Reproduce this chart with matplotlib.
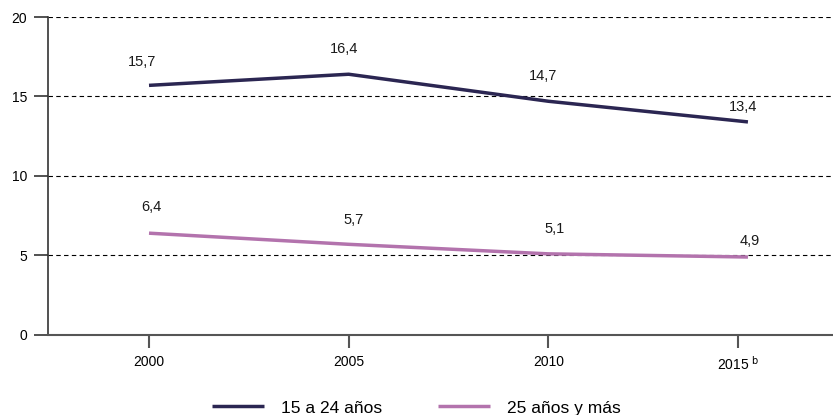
import matplotlib
matplotlib.use("Agg")
import matplotlib.pyplot as plt
import matplotlib.transforms as mtransforms

years = [2000, 2005, 2010, 2015]
tick_labels = ["2000", "2005", "2010", "2015$^{\\ \\mathrm{b}}$"]
jovenes = [15.7, 16.4, 14.7, 13.4]
adultos = [6.4, 5.7, 5.1, 4.9]
series_names = ["15 a 24 años", "25 años y más"]

# label offsets (points) as placed in the original
off_jov = [(-5, 16.5), (-3.5, 18), (-3.5, 18), (-3.5, 10.5)]
off_adu = [(2, 18.5), (3.5, 17.5), (4.5, 18), (1.5, 11.5)]

plt.rcParams['font.family'] = ['Liberation Sans', 'DejaVu Sans']

fig = plt.figure(figsize=(8.33, 4.15), dpi=100)
ax = fig.add_axes([0.0576, 0.193, 0.9424, 0.766])

c1 = "#2b2652"
c2 = "#b373ad"
ax.plot(years, jovenes, color=c1, lw=2.5, label=series_names[0], solid_capstyle='butt')
ax.plot(years, adultos, color=c2, lw=2.5, label=series_names[1], solid_capstyle='butt')

for x, y, o in zip(years, jovenes, off_jov):
    ax.annotate(f"{y:.1f}".replace(".", ","), (x, y), xytext=o, textcoords="offset points",
                ha="center", va="center", fontsize=10.5, color="#1a1a1a")
for x, y, o in zip(years, adultos, off_adu):
    ax.annotate(f"{y:.1f}".replace(".", ","), (x, y), xytext=o, textcoords="offset points",
                ha="center", va="center", fontsize=10.5, color="#1a1a1a")

ax.set_ylim(0, 20)
ax.set_yticks([0, 5, 10, 15, 20])
ax.set_xlim(1997.47, 2017.13)
ax.set_xticks(years)
ax.set_xticklabels(tick_labels)

for yv in [5, 10, 15, 20]:
    ax.axhline(yv, color="black", lw=0.8, ls=(0, (4, 3)), zorder=0)

for s in ["top", "right"]:
    ax.spines[s].set_visible(False)
ax.spines["left"].set_color("#333333")
ax.spines["bottom"].set_color("#555555")
ax.spines["left"].set_linewidth(1.2)
ax.spines["bottom"].set_linewidth(1.5)
ax.tick_params(axis="y", length=10, width=1.2, color="#333333", labelsize=10, pad=5)
ax.tick_params(axis="x", length=9.5, width=1.5, color="#555555", labelsize=10, pad=5)

# last tick (with footnote) sits a bit left in the original
shift = mtransforms.ScaledTranslation(-10 / 100, 0, fig.dpi_scale_trans)
last = ax.xaxis.get_major_ticks()[-1]
last.tick1line.set_transform(last.tick1line.get_transform() + shift)
last.label1.set_transform(last.label1.get_transform() + shift)

fig.legend(loc="center", bbox_to_anchor=(0.5, 0.017), ncol=2, frameon=False, fontsize=12.5,
           handlelength=3.0, handletextpad=1.0, columnspacing=3.2)

fig.savefig("out.png", dpi=100)
